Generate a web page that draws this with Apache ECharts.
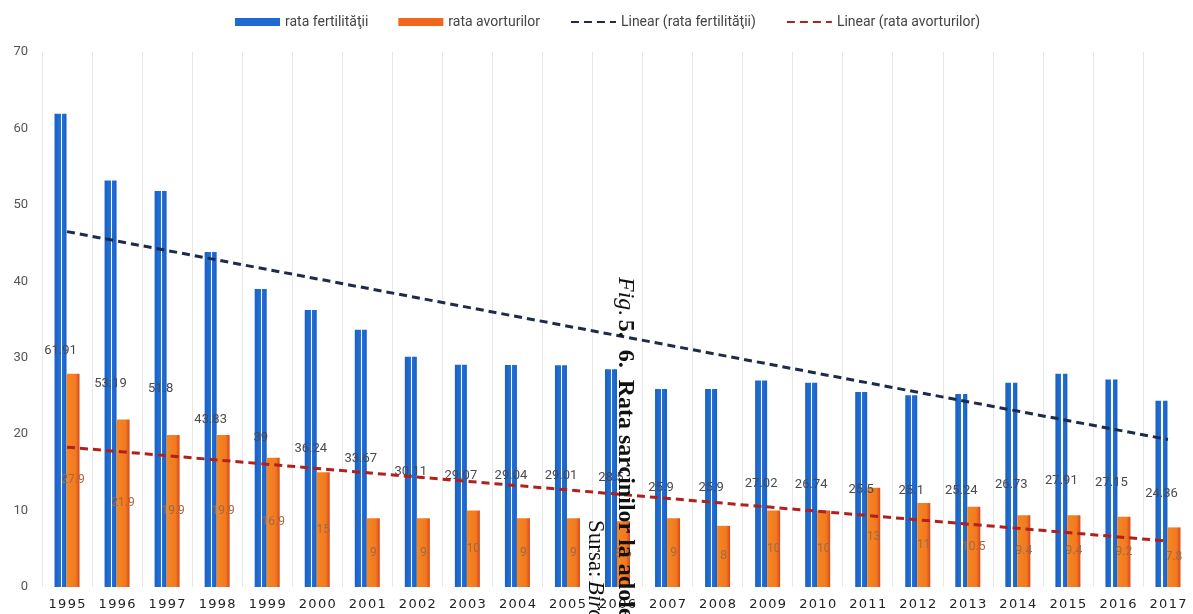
<!DOCTYPE html>
<html>
<head>
<meta charset="utf-8">
<script src="https://cdn.jsdelivr.net/npm/echarts@6/dist/echarts.min.js"></script>
<style>
html,body{margin:0;padding:0;background:#fff;}
#c{width:1193px;height:614px;}
</style>
</head>
<body>
<div id="c"></div>
<script>
const years = ['1995','1996','1997','1998','1999','2000','2001','2002','2003','2004','2005','2006','2007','2008','2009','2010','2011','2012','2013','2014','2015','2016','2017'];
const fertility = [61.91,53.19,51.8,43.83,39.0,36.24,33.67,30.11,29.07,29.04,29.01,28.5,25.9,25.9,27.02,26.74,25.5,25.1,25.24,26.73,27.91,27.15,24.36];
const abortion = [27.9,21.9,19.9,19.9,16.9,15.0,9.0,9.0,10.0,9.0,9.0,8.6,9.0,8.0,10.0,10.0,13.0,11.0,10.5,9.4,9.4,9.2,7.8];
const trendFertEnds = [46.5, 19.3];
const trendAbortEnds = [18.3, 6.0];
const yTicks = {min: 0, max: 70, interval: 10};

function endsToSeries(ends){
  const arr = years.map(() => null);
  arr[0] = ends[0];
  arr[years.length - 1] = ends[1];
  return arr;
}

const chart = echarts.init(document.getElementById('c'), null, {renderer: 'canvas'});
const blueGrad = new echarts.graphic.LinearGradient(0,0,1,0,[
  {offset:0,color:'#1a5fc6'},{offset:0.5,color:'#2272d6'},
  {offset:0.5,color:'#ffffff'},{offset:0.6,color:'#ffffff'},
  {offset:0.6,color:'#2272d6'},{offset:1,color:'#1a5fc6'}]);
const orangeGrad = new echarts.graphic.LinearGradient(0,0,1,0,[
  {offset:0,color:'#f7861f'},{offset:0.7,color:'#f07a22'},{offset:1,color:'#d9461a'}]);

chart.setOption({
  animation: false,
  textStyle: {fontFamily: 'Roboto, "Noto Sans", sans-serif'},
  legend: {
    top: 10, left: 230, itemWidth: 45, itemHeight: 8, itemGap: 30,
    textStyle: {fontSize: 14, color: '#444', fontFamily: 'Roboto'},
    data: [
      {name: 'rata fertilităţii', icon: 'rect', itemStyle: {color: '#1f6ad0'}},
      {name: 'rata avorturilor', icon: 'rect', itemStyle: {color: '#f0661c'}},
      {name: 'Linear (rata fertilităţii)', itemStyle: {opacity: 0}},
      {name: 'Linear (rata avorturilor)', itemStyle: {opacity: 0}}
    ]
  },
  grid: {left: 42, right: 0, top: 52, bottom: 27},
  xAxis: {
    type: 'category', data: years, boundaryGap: true,
    axisLine: {show: false}, axisTick: {show: false},
    splitLine: {show: true, lineStyle: {color: '#e8e8e8', width: 1}},
    axisLabel: {margin: 11, fontSize: 13, color: '#222', fontFamily: 'DejaVu Sans',
      formatter: v => v.split('').join('\u200a')}
  },
  yAxis: {
    type: 'value', min: yTicks.min, max: yTicks.max, interval: yTicks.interval,
    axisLine: {show: false}, axisTick: {show: false}, splitLine: {show: false},
    axisLabel: {margin: 14, fontSize: 13, color: '#555'}
  },
  series: [
    {
      name: 'rata fertilităţii', type: 'bar', data: fertility, barWidth: 12, barGap: '0%',
      itemStyle: {color: blueGrad},
      label: {show: true, position: 'inside', color: '#4a4a4a', fontSize: 13,
        textBorderWidth: 0, formatter: p => String(p.value)}
    },
    {
      name: 'rata avorturilor', type: 'bar', data: abortion, barWidth: 13, barGap: '0%',
      itemStyle: {color: orangeGrad},
      label: {show: true, position: 'inside', color: '#a06a44', fontSize: 12,
        textBorderWidth: 0, formatter: p => String(p.value)}
    },
    {
      name: 'Linear (rata fertilităţii)', type: 'line', data: endsToSeries(trendFertEnds),
      connectNulls: true, symbol: 'none', z: 5,
      itemStyle: {color: '#1e2a4a'},
      lineStyle: {color: '#1e2a4a', width: 3, type: [8, 5]}
    },
    {
      name: 'Linear (rata avorturilor)', type: 'line', data: endsToSeries(trendAbortEnds),
      connectNulls: true, symbol: 'none', z: 5,
      itemStyle: {color: '#b0201c'},
      lineStyle: {color: '#b0201c', width: 3, type: [8, 5]}
    }
  ],
  graphic: [
    {
      type: 'text', x: 625, y: 277, rotation: -Math.PI / 2, z: 100,
      style: {
        text: '{i|Fig.} {b|5.  6.  Rata sarcinilor la adolescente}',
        textVerticalAlign: 'middle', textAlign: 'left',
        rich: {
          i: {fontFamily: 'Liberation Serif', fontStyle: 'italic', fontSize: 24, fill: '#111'},
          b: {fontFamily: 'Liberation Serif', fontWeight: 'bold', fontSize: 24, fill: '#111'}
        }
      }
    },
    {
      type: 'text', x: 595, y: 520, rotation: -Math.PI / 2, z: 100,
      style: {
        text: '{r|Sursa:} {i|Biroul}',
        textVerticalAlign: 'middle', textAlign: 'left',
        rich: {
          r: {fontFamily: 'Liberation Serif', fontSize: 23, fill: '#111'},
          i: {fontFamily: 'Liberation Serif', fontStyle: 'italic', fontSize: 23, fill: '#111'}
        }
      }
    }
  ]
});
</script>
</body>
</html>
